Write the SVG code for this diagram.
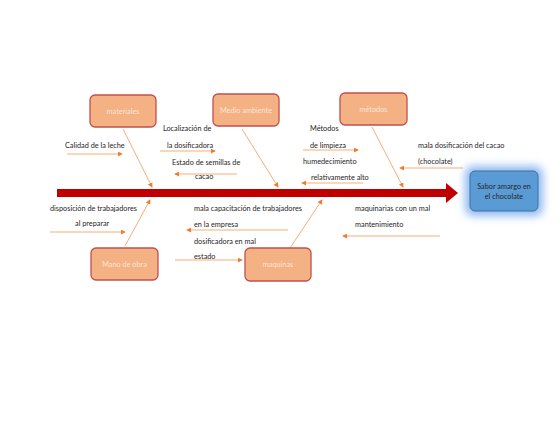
<svg xmlns="http://www.w3.org/2000/svg" width="560" height="433" viewBox="0 0 560 433">
<defs>
<marker id="ah" viewBox="0 0 6 6" refX="5" refY="3" markerWidth="5" markerHeight="5" orient="auto" markerUnits="userSpaceOnUse">
<path d="M0,0 L6,3 L0,6 z" fill="#ed7d31"/>
</marker>
<filter id="glow" x="-50%" y="-50%" width="200%" height="200%">
<feGaussianBlur stdDeviation="4.5"/>
</filter>
<style>
.box{fill:#f4b183;stroke:#c0504d;stroke-width:1.3}
.bl{font-family:Lato,"Liberation Sans",sans-serif;font-size:7.3px;fill:#fbe5d6;text-anchor:middle}
.t{font-family:Lato,"Liberation Sans",sans-serif;font-size:7.3px;fill:#262626}
.c{stroke:#f4a46a;stroke-width:0.9;fill:none;marker-end:url(#ah)}
</style>
</defs>
<rect width="560" height="433" fill="#ffffff"/>
<g id="spine">
<rect x="57" y="189" width="391" height="8" fill="#c00000"/>
<path d="M446,183 L458,193 L446,203 z" fill="#c00000"/>
</g>
<g id="connectors">
<line class="c" x1="123" y1="129" x2="152" y2="187"/>
<line class="c" x1="242" y1="129" x2="278" y2="187"/>
<line class="c" x1="372" y1="127" x2="403" y2="187"/>
<line class="c" x1="125" y1="246" x2="150" y2="200"/>
<line class="c" x1="290" y1="248" x2="322" y2="200"/>
<line class="c" x1="67" y1="154" x2="122" y2="154"/>
<line class="c" x1="160" y1="151" x2="215" y2="151"/>
<line class="c" x1="237" y1="174" x2="175" y2="174"/>
<line class="c" x1="303" y1="150" x2="358" y2="150"/>
<line class="c" x1="363" y1="183" x2="302" y2="183"/>
<line class="c" x1="463" y1="168" x2="400" y2="168"/>
<line class="c" x1="50" y1="232" x2="125" y2="232"/>
<line class="c" x1="288" y1="230" x2="187" y2="230"/>
<line class="c" x1="175" y1="260" x2="242" y2="260"/>
<line class="c" x1="440" y1="236" x2="343" y2="236"/>
</g>
<g id="materiales">
<rect class="box" x="90" y="95" width="66" height="32" rx="5"/>
<text class="bl" x="123" y="113.5">materiales</text>
</g>
<g id="medio-ambiente">
<rect class="box" x="213" y="94" width="66" height="32" rx="5"/>
<text class="bl" x="246" y="112.5">Medio ambiente</text>
</g>
<g id="metodos">
<rect class="box" x="340" y="93" width="67" height="32" rx="5"/>
<text class="bl" x="373.5" y="111.5">métodos</text>
</g>
<g id="mano-de-obra">
<rect class="box" x="91" y="248" width="67" height="32" rx="5"/>
<text class="bl" x="124.5" y="266.5">Mano de obra</text>
</g>
<g id="maquinas">
<rect class="box" x="245" y="248" width="66" height="33" rx="5"/>
<text class="bl" x="278" y="267">maquinas</text>
</g>
<g id="efecto">
<rect x="465" y="166" width="78" height="50" rx="8" fill="#8fb9f2" filter="url(#glow)"/>
<rect x="470" y="171" width="68" height="40" rx="5" fill="#5b9bd5" stroke="#41719c" stroke-width="1"/>
<text class="t" x="504" y="188.5" text-anchor="middle">Sabor amargo en</text>
<text class="t" x="504" y="198.5" text-anchor="middle">el chocolate</text>
</g>
<g id="labels">
<text class="t" x="65" y="147.5">Calidad de la leche</text>
<text class="t" x="163" y="130.5">Localización de</text>
<text class="t" x="167" y="147.5">la dosificadora</text>
<text class="t" x="172" y="164.5">Estado de semillas de</text>
<text class="t" x="195" y="179">cacao</text>
<text class="t" x="310" y="131">Métodos</text>
<text class="t" x="310" y="147.5">de limpieza</text>
<text class="t" x="303" y="163.5">humedecimiento</text>
<text class="t" x="311" y="179.5">relativamente alto</text>
<text class="t" x="418" y="147.5">mala dosificación del cacao</text>
<text class="t" x="418" y="163.5">(chocolate)</text>
<text class="t" x="50" y="210.5">disposición de trabajadores</text>
<text class="t" x="75" y="225.5">al preparar</text>
<text class="t" x="194" y="210.5">mala capacitación de trabajadores</text>
<text class="t" x="194" y="226.5">en la empresa</text>
<text class="t" x="194" y="243.5">dosificadora en mal</text>
<text class="t" x="194" y="258.5">estado</text>
<text class="t" x="355" y="210.5">maquinarias con un mal</text>
<text class="t" x="355" y="226.5">mantenimiento</text>
</g>
</svg>
